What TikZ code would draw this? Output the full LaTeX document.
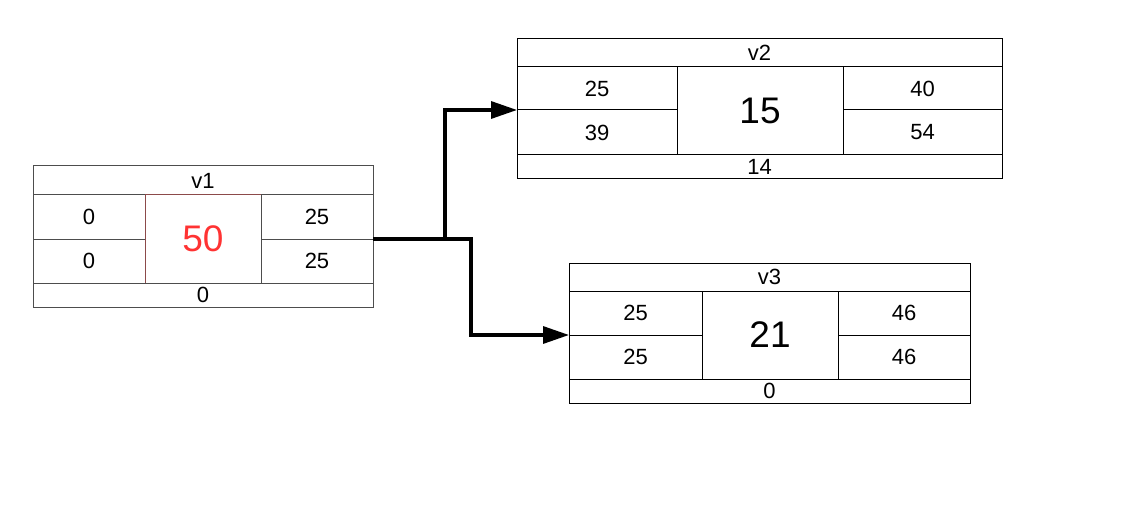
\documentclass[tikz,border=0pt]{standalone}
\usepackage{fontspec}
\setmainfont{Liberation Sans}
\usetikzlibrary{positioning,arrows.meta,calc}
\definecolor{ink}{HTML}{000000}
\definecolor{frame}{HTML}{4D4D4D}
\definecolor{hotred}{HTML}{FF3333}
\definecolor{hotframe}{HTML}{8C4A4A}

\begin{document}
\begin{tikzpicture}[x=1pt,y=-1pt,
    cell/.style={draw=#1,line width=1pt,anchor=north west,inner sep=0pt,outer sep=0pt,
      font=\fontsize{22}{25}\selectfont,text=ink},
    cell/.default=ink,
    bigcell/.style={cell=#1,font=\fontsize{37}{41}\selectfont},
    bigcell/.default=ink,
    edge/.style={line width=3.3pt,color=ink,-{Triangle[length=26pt,width=17pt]}}]
      \useasboundingbox (0,0) rectangle (1144,508);

      % v1
      \node[cell=frame,minimum width=340,minimum height=29] (v1t) at (33,166) {v1};
      \node[cell=frame,minimum width=112,minimum height=44] (v1ul) at (33,195) {0};
      \node[cell=frame,minimum width=112,minimum height=44] (v1ll) at (33,239) {0};
      \node[bigcell=hotframe,minimum width=116,minimum height=88,text=hotred] (v1c) at (145,195) {50};
      \node[cell=frame,minimum width=112,minimum height=44] (v1ur) at (261,195) {25};
      \node[cell=frame,minimum width=112,minimum height=44] (v1lr) at (261,239) {25};
      \node[cell=frame,minimum width=340,minimum height=24] (v1b) at (33,283) {0};

      % v2
      \node[cell,minimum width=485,minimum height=28] (v2t) at (517,39) {v2};
      \node[cell,minimum width=160,minimum height=43] (v2ul) at (517,67) {25};
      \node[cell,minimum width=160,minimum height=45] (v2ll) at (517,110) {39};
      \node[bigcell,minimum width=166,minimum height=88] (v2c) at (677,67) {15};
      \node[cell,minimum width=159,minimum height=43] (v2ur) at (843,67) {40};
      \node[cell,minimum width=159,minimum height=45] (v2lr) at (843,110) {54};
      \node[cell,minimum width=485,minimum height=24] (v2b) at (517,155) {14};

      % v3
      \node[cell,minimum width=401,minimum height=28] (v3t) at (569,263) {v3};
      \node[cell,minimum width=133,minimum height=44] (v3ul) at (569,291) {25};
      \node[cell,minimum width=133,minimum height=44] (v3ll) at (569,335) {25};
      \node[bigcell,minimum width=136,minimum height=88] (v3c) at (702,291) {21};
      \node[cell,minimum width=132,minimum height=44] (v3ur) at (838,291) {46};
      \node[cell,minimum width=132,minimum height=44] (v3lr) at (838,335) {46};
      \node[cell,minimum width=401,minimum height=24] (v3b) at (569,379) {0};

      % links
      \coordinate (j2) at ($(v1ur.south east)+(72,0)$);
      \coordinate (j3) at ($(v1ur.south east)+(98,0)$);
      \draw[edge] (v1ur.south east) -- (j2) |- (v2ul.south west);
      \draw[edge] (j2) -- (j3) |- (v3ul.south west);
    \end{tikzpicture}
\end{document}
